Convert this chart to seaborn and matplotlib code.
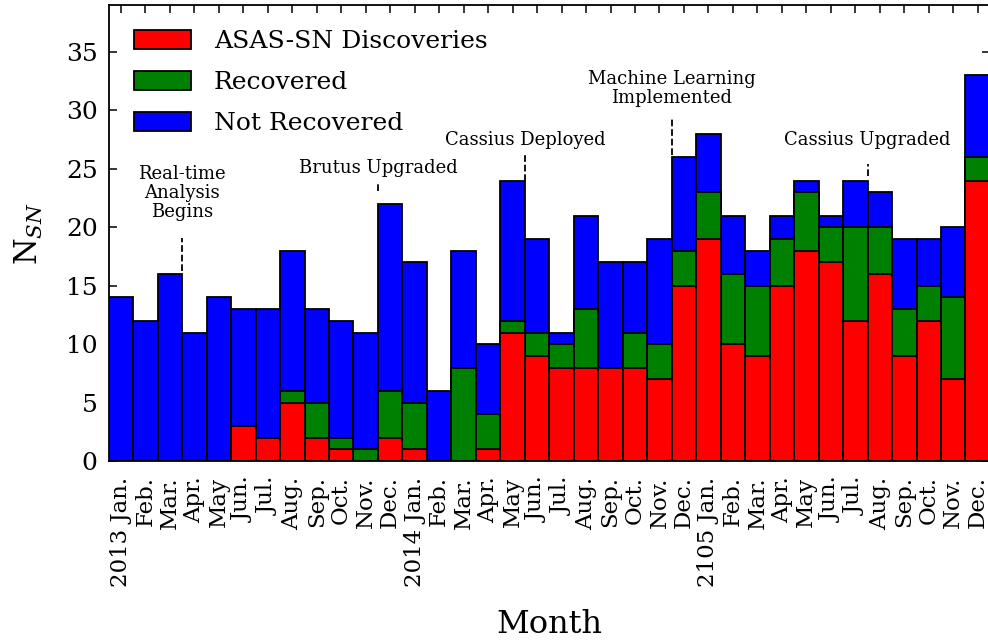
import numpy as np
import matplotlib
matplotlib.use('Agg')
import matplotlib.pyplot as plt
import seaborn as sns

# months, 2013 Jan. -> 2015 Dec. (year typo kept as in the original)
month_labels = ['2013 Jan.', 'Feb.', 'Mar.', 'Apr.', 'May', 'Jun.', 'Jul.', 'Aug.', 'Sep.', 'Oct.', 'Nov.', 'Dec.',
                '2014 Jan.', 'Feb.', 'Mar.', 'Apr.', 'May', 'Jun.', 'Jul.', 'Aug.', 'Sep.', 'Oct.', 'Nov.', 'Dec.',
                '2105 Jan.', 'Feb.', 'Mar.', 'Apr.', 'May', 'Jun.', 'Jul.', 'Aug.', 'Sep.', 'Oct.', 'Nov.', 'Dec.']

asassn = [0, 0, 0, 0, 0, 3, 2, 5, 2, 1, 0, 2,
          1, 0, 0, 1, 11, 9, 8, 8, 8, 8, 7, 15,
          19, 10, 9, 15, 18, 17, 12, 16, 9, 12, 7, 24]
recovered = [0, 0, 0, 0, 0, 0, 0, 1, 3, 1, 1, 4,
             4, 0, 8, 3, 1, 2, 2, 5, 0, 3, 3, 3,
             4, 6, 6, 4, 5, 3, 8, 4, 4, 3, 7, 2]
not_recovered = [14, 12, 16, 11, 14, 10, 11, 12, 8, 10, 10, 16,
                 12, 6, 10, 6, 12, 8, 1, 8, 9, 6, 9, 8,
                 5, 5, 3, 2, 1, 1, 4, 3, 6, 4, 6, 7]

events = ['Real-time\nAnalysis\nBegins', 'Brutus Upgraded', 'Cassius Deployed',
          'Machine Learning\nImplemented', 'Cassius Upgraded']
event_month = [3, 11, 17, 23, 31]   # first month after the change

sns.set_style('ticks')
plt.rcParams['font.family'] = ['DejaVu Serif']
plt.rcParams['mathtext.fontset'] = 'dejavuserif'
for k in ['text.color', 'axes.labelcolor', 'xtick.color', 'ytick.color', 'axes.edgecolor']:
    plt.rcParams[k] = 'black'

idx = np.arange(len(month_labels))
red = np.array(asassn)
green_top = red + np.array(recovered)
total = green_top + np.array(not_recovered)

fig = plt.figure(figsize=(9.88, 6.44), dpi=100)
ax = fig.add_axes([0.110, 0.284, 0.892, 0.708])

bar_kw = dict(width=1.0, edgecolor='black', linewidth=1.3, saturation=1, errorbar=None, ax=ax)
sns.barplot(x=idx, y=total, color='#0000ff', **bar_kw)
sns.barplot(x=idx, y=green_top, color='#008000', **bar_kw)
sns.barplot(x=idx, y=red, color='#ff0000', **bar_kw)

# event markers: dashed line between months + label above
line_lo = [16.3, 23.1, 24.0, 26.2, 24.4]
line_hi = [19.1, 23.9, 26.3, 29.4, 25.4]
text_y = [20.5, 24.3, 26.7, 30.3, 26.7]
for lab, m, lo, hi, ty in zip(events, event_month, line_lo, line_hi, text_y):
    ax.vlines(m - 0.5, lo, hi, colors='black', linestyles='--', linewidth=1.3)
    ax.text(m - 0.5, ty, lab, ha='center', va='bottom', fontsize=13, linespacing=1.08)

ax.set_xlim(-0.5, 35.5)
ax.set_ylim(0, 39)
ax.set_yticks(range(0, 40, 5))
ax.set_xticks(idx)
ax.set_xticklabels(month_labels, rotation=90, fontsize=16.5)
ax.tick_params(axis='y', labelsize=18, pad=8)
ax.tick_params(axis='x', pad=11)
ax.tick_params(direction='in', top=True, right=True, length=6, width=1.1)
for s in ax.spines.values():
    s.set_linewidth(1.3)
    s.set_visible(True)

ax.set_xlabel('Month', fontsize=23)
ax.set_ylabel('N$_{SN}$', fontsize=22)
ax.xaxis.set_label_coords(0.5, -0.325)
ax.yaxis.set_label_coords(-0.072, 0.5)

c = ax.containers
ax.legend([c[2], c[1], c[0]], ['ASAS-SN Discoveries', 'Recovered', 'Not Recovered'],
          loc='upper left', bbox_to_anchor=(0.0, 1.0), frameon=False, fontsize=18,
          handlelength=2.3, handleheight=0.75, handletextpad=0.9, labelspacing=0.72,
          borderaxespad=0.6)

fig.savefig('out.png', dpi=100)
